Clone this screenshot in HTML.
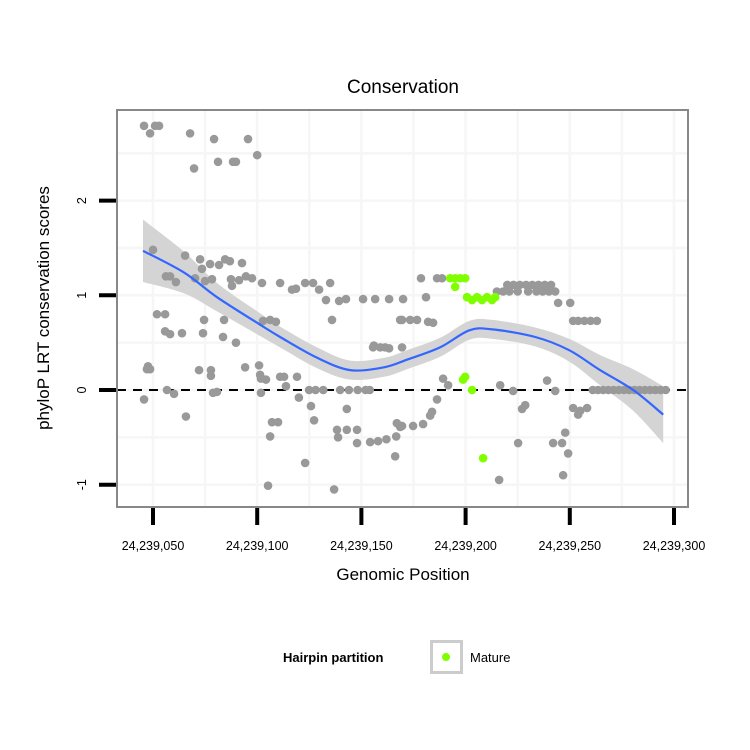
<!DOCTYPE html>
<html><head><meta charset="utf-8"><style>
body{margin:0;background:#fff;width:750px;height:750px;overflow:hidden}
svg{display:block;font-family:"Liberation Sans",sans-serif}
</style></head><body>
<svg id="chart" width="750" height="750">
<rect x="0" y="0" width="750" height="750" fill="#fff"/>
<text x="403" y="93" font-size="19" text-anchor="middle">Conservation</text>
<g id="grid"></g>
<g id="band"></g>
<line x1="117" x2="688" y1="390" y2="390" stroke="#000" stroke-width="2" stroke-dasharray="9,7"/>
<g id="pts"></g>
<g id="smooth"></g>
<rect x="117" y="110" width="571" height="397" fill="none" stroke="#888" stroke-width="2"/>
<g id="axes"></g>
<text x="403" y="580" font-size="17" text-anchor="middle">Genomic Position</text>
<text transform="translate(49,308) rotate(-90)" font-size="17" text-anchor="middle">phyloP LRT conservation scores</text>
<g>
<text x="283" y="662" font-size="13" font-weight="bold">Hairpin partition</text>
<rect x="431.5" y="641.5" width="30" height="31" fill="#fff" stroke="#ccc" stroke-width="3"/>
<circle cx="446" cy="657" r="4" fill="#7fff00"/>
<text x="470" y="662" font-size="13">Mature</text>
</g>
</svg>
<script>
const xTicks=[50,100,150,200,250,300];
const xTickLabels=["24,239,050","24,239,100","24,239,150","24,239,200","24,239,250","24,239,300"];
const yTicks=[-1,0,1,2];
const yTickLabels=["-1","0","1","2"];
const greyX=[45.7,47.1,48.6,45.7,48.6,51,52.9,67.8,69.7,79.3,81.2,88.4,89.8,95.6,100,50,65.4,72.6,73.5,77.4,81.7,84.6,86.9,92.7,91.3,94.6,97.5,58.2,56.2,61,70.2,75,78.3,87.4,87.9,102.3,111,116.7,118.6,123,126.8,129.7,133,139.3,142.6,150.8,156.6,163.3,170,51.9,55.8,58.2,63.9,74,74.5,84.1,83.6,89.8,102.8,106.2,109,135.9,155.6,159,163.3,169.5,47.6,72.1,77.8,94.2,101.4,104.2,101.8,80.7,111,112.9,119.1,56.7,60.1,65.8,77.8,78.8,100.9,101.8,113.8,120,125.8,127.3,124.9,128,131.7,139.8,144,148.2,152,154,143,107.1,110,106.2,123,105.2,136.9,138.3,143,147.9,138.8,147.9,154.2,158,162,166.7,167,168.6,166.2,135,55.8,156,161.4,169.5,178.6,181,168.6,173.4,176.7,182,184.4,186.3,188.7,189.2,191.6,216.6,222.8,239.1,243,186.3,183.9,183,179.6,174.8,169.5,228.6,227.1,251.6,255,258.3,254,247.8,242,246.3,249.2,225.2,246.8,216.1,220,223,226,229,232,235,238,241,215,218,221,225,230,234,237,240,243,244.4,250.2,251.6,254,257,260,263,261,263.5,266,268.5,271,273.5,276,278.5,281,283.5,286,288.5,291,293.5,296];
const greyY=[-0.10,0.22,0.22,2.79,2.71,2.79,2.79,2.71,2.34,2.65,2.41,2.41,2.41,2.65,2.48,1.48,1.42,1.38,1.28,1.33,1.32,1.38,1.36,1.34,1.16,1.20,1.18,1.20,1.20,1.14,1.18,1.15,1.17,1.17,1.10,1.13,1.13,1.06,1.07,1.13,1.13,1.06,0.95,0.94,0.96,0.96,0.96,0.96,0.96,0.80,0.62,0.59,0.60,0.60,0.74,0.74,0.56,0.50,0.73,0.74,0.72,0.74,0.45,0.45,0.44,0.45,0.25,0.21,0.21,0.24,0.16,0.11,-0.03,-0.02,0.14,0.14,0.14,0.0,-0.04,-0.28,0.15,-0.03,0.26,0.12,0.04,-0.08,-0.17,-0.32,0,0,0,0,0,0,0,0,-0.20,-0.34,-0.34,-0.49,-0.77,-1.01,-1.05,-0.42,-0.42,-0.42,-0.50,-0.56,-0.55,-0.54,-0.52,-0.49,-0.35,-0.39,-0.70,1.13,0.80,0.47,0.45,0.74,1.18,0.98,0.74,0.74,0.74,0.72,0.71,1.18,1.18,0.12,0.05,0.05,-0.01,0.10,-0.01,-0.10,-0.23,-0.27,-0.36,-0.38,-0.38,-0.16,-0.20,-0.19,-0.22,-0.19,-0.26,-0.45,-0.56,-0.56,-0.67,-0.56,-0.90,-0.95,1.11,1.11,1.11,1.11,1.11,1.11,1.11,1.11,1.04,1.04,1.04,1.04,1.04,1.04,1.04,1.04,1.04,0.92,0.92,0.73,0.73,0.73,0.73,0.73,0,0,0,0,0,0,0,0,0,0,0,0,0,0,0];
const matureX=[192.6,195,197.4,199.8,195,200.7,203.1,205.5,207.9,210.3,212.7,214.2,198.8,199.8,203.1,208.4];
const matureY=[1.18,1.18,1.18,1.18,1.09,0.98,0.95,0.98,0.95,0.98,0.95,0.98,0.11,0.14,0,-0.72];
const smoothX=[45.2,64.9,80.7,101.4,111,128.8,144.6,160.9,171.9,187.7,201.8,212.8,233.4,249.7,264.5,280.4,294.8];
const smoothY=[1.47,1.24,0.98,0.69,0.56,0.34,0.21,0.24,0.32,0.45,0.63,0.64,0.56,0.42,0.21,0,-0.26];
const smoothSE=[0.33,0.22,0.15,0.12,0.11,0.11,0.1,0.1,0.1,0.1,0.1,0.1,0.1,0.12,0.16,0.22,0.3];

const NS="http://www.w3.org/2000/svg";
function sx(v){return 153+(v-50)*2.084;}
function sy(v){return 390-v*94.7;}
function mk(tag,attrs,parent){const e=document.createElementNS(NS,tag);for(const k in attrs)e.setAttribute(k,attrs[k]);parent.appendChild(e);return e;}
function curve(P,start){
  let d=(start?'M':'L')+P[0][0].toFixed(1)+','+P[0][1].toFixed(1);
  for(let i=0;i<P.length-1;i++){
    const p0=P[Math.max(0,i-1)],p1=P[i],p2=P[i+1],p3=P[Math.min(P.length-1,i+2)];
    const c1=[p1[0]+(p2[0]-p0[0])/6,p1[1]+(p2[1]-p0[1])/6];
    const c2=[p2[0]-(p3[0]-p1[0])/6,p2[1]-(p3[1]-p1[1])/6];
    d+='C'+c1.map(v=>v.toFixed(1)).join(',')+' '+c2.map(v=>v.toFixed(1)).join(',')+' '+p2.map(v=>v.toFixed(1)).join(',');
  }
  return d;
}
const grid=document.getElementById('grid');
for(let v=25;v<=300;v+=25){
  const X=sx(v); if(X<118||X>687) continue;
  const l=mk('line',{x1:X,x2:X,y1:111,y2:506,stroke:'#f6f6f6','stroke-width':2.5},grid);
  
  
}
for(let v=-1;v<=2.5;v+=0.5){
  const l=mk('line',{x1:118,x2:687,y1:sy(v),y2:sy(v),stroke:'#f6f6f6','stroke-width':2.5},grid);
  
  
}
const band=document.getElementById('band');
const up=smoothX.map((x,i)=>[sx(x),sy(smoothY[i]+smoothSE[i])]);
const lo=smoothX.map((x,i)=>[sx(x),sy(smoothY[i]-smoothSE[i])]).reverse();
const bp=mk('path',{d:curve(up,true)+curve(lo,false)+'Z',fill:'#d4d4d4'},band);


const pts=document.getElementById('pts');
greyX.forEach((x,i)=>{
  const c=mk('circle',{cx:sx(x),cy:sy(greyY[i]),r:4.3,fill:'#999'},pts);
  
  
});
matureX.forEach((x,i)=>{
  const c=mk('circle',{cx:sx(x),cy:sy(matureY[i]),r:4.3,fill:'#7fff00'},pts);
  
  
});
const sm=document.getElementById('smooth');
const sp=mk('path',{d:curve(smoothX.map((x,i)=>[sx(x),sy(smoothY[i])]),true),fill:'none',stroke:'#3366ff','stroke-width':2.2},sm);


const axes=document.getElementById('axes');
xTicks.forEach((v,i)=>{
  const t=mk('line',{x1:sx(v),x2:sx(v),y1:508,y2:525,stroke:'#000','stroke-width':4},axes);
  
  
  const tx=mk('text',{x:sx(v),y:550,'font-size':12.5,'text-anchor':'middle'},axes);
  tx.textContent=xTickLabels[i];
  
  
});
yTicks.forEach((v,i)=>{
  const t=mk('line',{x1:99,x2:116,y1:sy(v),y2:sy(v),stroke:'#000','stroke-width':4},axes);
  
  
  const tx=mk('text',{transform:'translate(86,'+sy(v)+') rotate(-90)','font-size':12.5,'text-anchor':'middle'},axes);
  tx.textContent=yTickLabels[i];
  
  
});
</script>
</body></html>
